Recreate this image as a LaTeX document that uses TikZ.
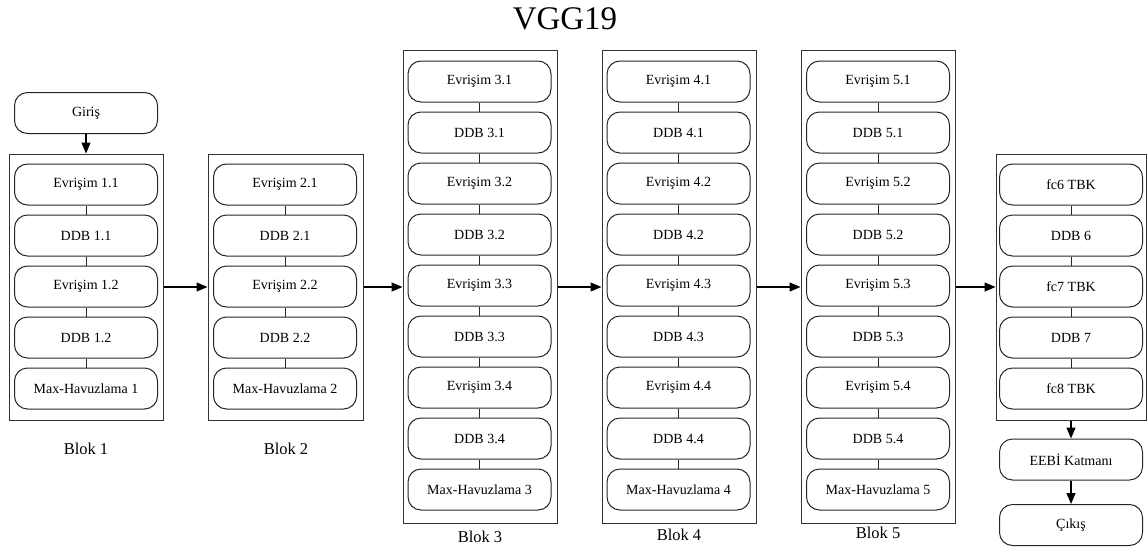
\documentclass[tikz,border=0pt]{standalone}
\usepackage{fontspec}
\setmainfont{Liberation Serif}
\newfontfamily\tnr{Liberation Serif}
\usetikzlibrary{arrows.meta}
\begin{document}
\begin{tikzpicture}[x=1pt,y=-1pt,
  every node/.style={font=\tnr},
  layer/.style={draw=black!85, line width=1pt, rounded corners=13pt,
    minimum width=143pt, minimum height=41pt, inner sep=0pt,
    font=\tnr\fontsize{14}{16}\selectfont},
  group/.style={draw=black!80, line width=1pt, inner sep=0pt},
  link/.style={draw=black!85, line width=1pt},
  arr/.style={draw=black, line width=1.2pt, -{Triangle[length=11pt,width=9pt]}},
  caption/.style={font=\tnr\fontsize{16.5}{18}\selectfont, anchor=base},
]
\useasboundingbox (0,0) rectangle (1147,551);

% title
\node[font=\tnr\fontsize{33}{36}\selectfont, anchor=base] (title) at (565,30) {VGG19};

% outer frames of the blocks
\node[group, minimum width=154pt, minimum height=266pt] (B1) at (86,287) {};
\node[group, minimum width=155pt, minimum height=266pt] (B2) at (285.5,287) {};
\node[group, minimum width=154pt, minimum height=473pt] (B3) at (480,287) {};
\node[group, minimum width=154pt, minimum height=473pt] (B4) at (679,287) {};
\node[group, minimum width=154pt, minimum height=473pt] (B5) at (878,287) {};
\node[group, minimum width=150pt, minimum height=266pt] (B6) at (1071,287) {};

% input
\node[layer] (in) at (86,113) {Giriş};
\draw[arr] (in) -- (B1);

% block 1
\foreach \lbl [count=\i] in {Evrişim 1.1,DDB 1.1,Evrişim 1.2,DDB 1.2,Max-Havuzlama 1}
  \node[layer] (p\i) at (86,{184.5+51*(\i-1)}) {\lbl};
\foreach \i [evaluate=\i as \j using int(\i+1)] in {1,...,4}
  \draw[link] (p\i) -- (p\j);

% block 2
\foreach \lbl [count=\i] in {Evrişim 2.1,DDB 2.1,Evrişim 2.2,DDB 2.2,Max-Havuzlama 2}
  \node[layer] (q\i) at (285,{184.5+51*(\i-1)}) {\lbl};
\foreach \i [evaluate=\i as \j using int(\i+1)] in {1,...,4}
  \draw[link] (q\i) -- (q\j);

% block 3
\foreach \lbl [count=\i] in {Evrişim 3.1,DDB 3.1,Evrişim 3.2,DDB 3.2,Evrişim 3.3,DDB 3.3,Evrişim 3.4,DDB 3.4,Max-Havuzlama 3}
  \node[layer] (r\i) at (479.5,{81.5+51*(\i-1)}) {\lbl};
\foreach \i [evaluate=\i as \j using int(\i+1)] in {1,...,8}
  \draw[link] (r\i) -- (r\j);

% block 4
\foreach \lbl [count=\i] in {Evrişim 4.1,DDB 4.1,Evrişim 4.2,DDB 4.2,Evrişim 4.3,DDB 4.3,Evrişim 4.4,DDB 4.4,Max-Havuzlama 4}
  \node[layer] (s\i) at (678.5,{81.5+51*(\i-1)}) {\lbl};
\foreach \i [evaluate=\i as \j using int(\i+1)] in {1,...,8}
  \draw[link] (s\i) -- (s\j);

% block 5
\foreach \lbl [count=\i] in {Evrişim 5.1,DDB 5.1,Evrişim 5.2,DDB 5.2,Evrişim 5.3,DDB 5.3,Evrişim 5.4,DDB 5.4,Max-Havuzlama 5}
  \node[layer] (t\i) at (878,{81.5+51*(\i-1)}) {\lbl};
\foreach \i [evaluate=\i as \j using int(\i+1)] in {1,...,8}
  \draw[link] (t\i) -- (t\j);

% fully connected block
\foreach \lbl [count=\i] in {fc6 TBK,DDB 6,fc7 TBK,DDB 7,fc8 TBK}
  \node[layer] (u\i) at (1071,{184.5+51*(\i-1)}) {\lbl};
\foreach \i [evaluate=\i as \j using int(\i+1)] in {1,...,4}
  \draw[link] (u\i) -- (u\j);

% output stage
\node[layer] (soft) at (1071,459.5) {EEBİ Katmanı};
\node[layer] (out) at (1071,525) {Çıkış};
\draw[arr] (B6) -- (soft);
\draw[arr] (soft) -- (out);

% flow between blocks
\draw[arr] (B1) -- (B2);
\draw[arr] (B2) -- (B3);
\draw[arr] (B3) -- (B4);
\draw[arr] (B4) -- (B5);
\draw[arr] (B5) -- (B6);

% block captions
\node[caption] (c1) at (86,454) {Blok 1};
\node[caption] (c2) at (286,454) {Blok 2};
\node[caption] (c3) at (480,542.5) {Blok 3};
\node[caption] (c4) at (679,540.5) {Blok 4};
\node[caption] (c5) at (878,538.5) {Blok 5};
\end{tikzpicture}
\end{document}
